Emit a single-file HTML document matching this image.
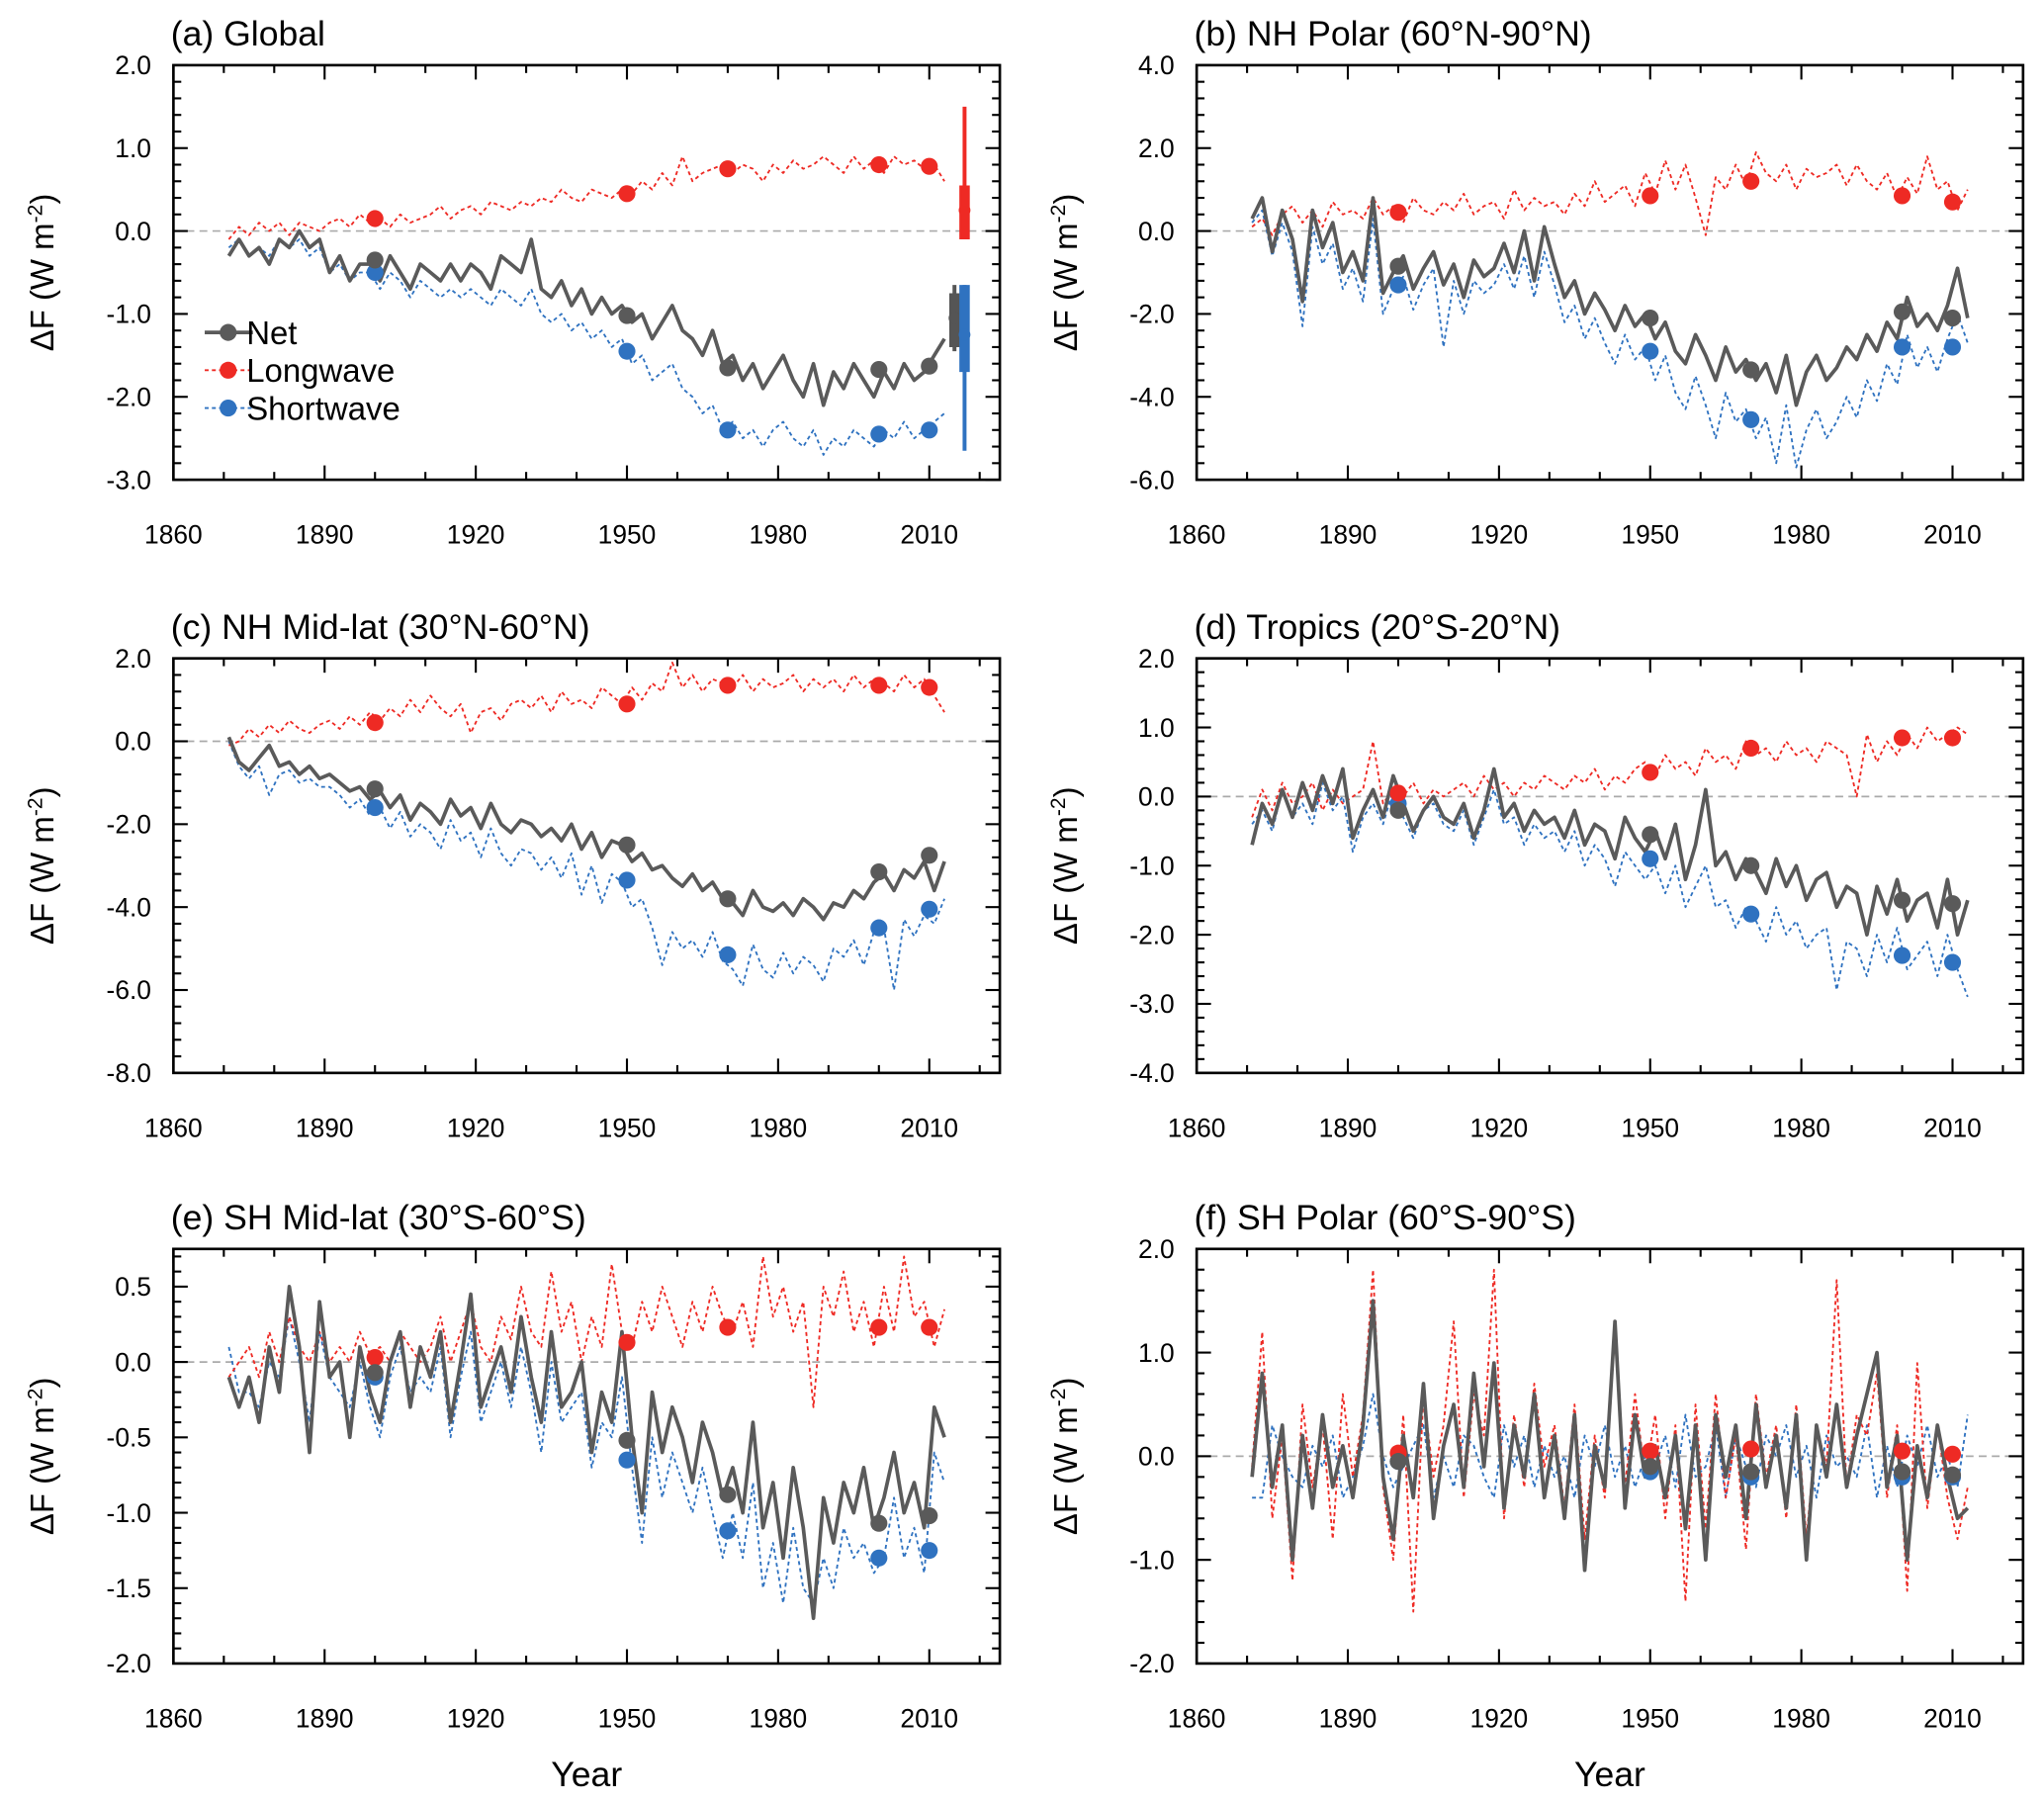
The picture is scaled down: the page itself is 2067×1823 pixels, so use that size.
<!DOCTYPE html>
<html><head><meta charset="utf-8">
<style>
html,body{margin:0;padding:0;background:#fff;}
svg{display:block;font-family:"Liberation Sans",Arial,sans-serif;}
</style></head>
<body>
<svg id="fig" width="2067" height="1823" viewBox="0 0 1568 1383" xmlns="http://www.w3.org/2000/svg"></svg>
<script>
// ---------- data (annual values every 2 years, 1871..2013) ----------
const years = Array.from({length:72},(_, i)=>1871+2*i);
const markerYears = [1900,1950,1970,2000,2010];

const aNet=[-0.3,-0.1,-0.3,-0.2,-0.4,-0.1,-0.2,0.0,-0.2,-0.1,-0.5,-0.3,-0.6,-0.4,-0.4,-0.6,-0.3,-0.5,-0.7,-0.4,-0.5,-0.6,-0.4,-0.6,-0.4,-0.5,-0.7,-0.3,-0.4,-0.5,-0.1,-0.7,-0.8,-0.6,-0.9,-0.7,-1.0,-0.8,-1.0,-0.9,-1.1,-1.0,-1.3,-1.1,-0.9,-1.2,-1.3,-1.5,-1.2,-1.6,-1.5,-1.8,-1.6,-1.9,-1.7,-1.5,-1.8,-2.0,-1.6,-2.1,-1.7,-1.9,-1.6,-1.8,-2.0,-1.7,-1.9,-1.6,-1.8,-1.7,-1.5,-1.3];
const aSW=[-0.2,-0.1,-0.3,-0.2,-0.3,-0.1,-0.2,-0.1,-0.3,-0.2,-0.5,-0.4,-0.6,-0.5,-0.5,-0.7,-0.5,-0.6,-0.8,-0.6,-0.7,-0.8,-0.7,-0.8,-0.7,-0.8,-0.9,-0.7,-0.8,-0.9,-0.7,-1.0,-1.1,-1.0,-1.2,-1.1,-1.3,-1.2,-1.4,-1.3,-1.6,-1.5,-1.8,-1.7,-1.6,-1.9,-2.0,-2.2,-2.1,-2.4,-2.3,-2.5,-2.4,-2.6,-2.4,-2.3,-2.5,-2.6,-2.4,-2.7,-2.5,-2.6,-2.4,-2.5,-2.6,-2.4,-2.5,-2.3,-2.5,-2.4,-2.3,-2.2];
const aLW=[-0.1,0.05,-0.05,0.1,0.0,0.1,-0.05,0.1,0.05,0.0,0.1,0.15,0.05,0.2,0.1,0.15,0.05,0.2,0.1,0.15,0.2,0.3,0.15,0.25,0.3,0.2,0.35,0.3,0.25,0.35,0.3,0.4,0.35,0.5,0.4,0.35,0.5,0.45,0.4,0.5,0.45,0.6,0.5,0.7,0.55,0.9,0.6,0.7,0.75,0.8,0.7,0.8,0.75,0.6,0.8,0.7,0.85,0.75,0.8,0.9,0.8,0.7,0.9,0.75,0.85,0.7,0.9,0.8,0.85,0.75,0.8,0.6];
const aMkNet=[-0.35,-1.02,-1.65,-1.67,-1.63], aMkLW=[0.15,0.45,0.75,0.8,0.78], aMkSW=[-0.5,-1.45,-2.4,-2.45,-2.4];

const bNet=[0.3,0.8,-0.5,0.5,-0.2,-1.7,0.5,-0.4,0.2,-1.0,-0.5,-1.2,0.8,-1.5,-1.0,-0.6,-1.4,-0.9,-0.5,-1.3,-0.8,-1.6,-0.7,-1.1,-0.9,-0.3,-1.0,0.0,-1.2,0.1,-0.8,-1.6,-1.2,-2.0,-1.5,-1.9,-2.4,-1.8,-2.3,-2.0,-2.6,-2.2,-2.9,-3.2,-2.5,-3.0,-3.6,-2.8,-3.4,-3.1,-3.6,-3.2,-3.9,-3.0,-4.2,-3.4,-3.0,-3.6,-3.3,-2.8,-3.1,-2.5,-2.9,-2.2,-2.6,-1.6,-2.3,-2.0,-2.4,-1.8,-0.9,-2.1];
const bSW=[0.2,0.5,-0.6,0.2,-0.5,-2.3,0.1,-0.8,-0.3,-1.4,-0.9,-1.7,0.3,-2.0,-1.4,-1.1,-1.9,-1.3,-0.9,-2.8,-1.2,-2.0,-1.2,-1.5,-1.3,-0.8,-1.4,-0.6,-1.6,-0.5,-1.3,-2.2,-1.8,-2.6,-2.1,-2.7,-3.2,-2.5,-3.1,-2.8,-3.6,-3.0,-3.9,-4.3,-3.5,-4.2,-5.0,-3.9,-4.6,-4.3,-5.0,-4.5,-5.6,-4.2,-5.7,-4.8,-4.3,-5.0,-4.6,-4.0,-4.5,-3.6,-4.1,-3.2,-3.7,-2.5,-3.3,-2.8,-3.4,-2.6,-2.0,-2.7];
const bLW=[0.1,0.3,-0.1,0.4,0.6,0.2,0.5,0.1,0.7,0.4,0.5,0.3,0.8,0.4,0.6,0.2,0.8,0.5,0.4,0.7,0.5,0.9,0.4,0.6,0.7,0.3,1.0,0.5,0.8,0.6,0.7,0.4,0.9,0.6,1.2,0.7,0.9,1.1,0.6,1.4,0.9,1.7,1.0,1.6,0.8,-0.1,1.3,1.0,1.6,1.1,1.9,1.4,1.2,1.6,1.0,1.5,1.3,1.4,1.6,1.1,1.6,1.2,1.0,1.4,0.8,1.3,0.9,1.8,1.0,1.2,0.5,1.0];
const bMkNet=[-0.85,-2.1,-3.35,-1.95,-2.1], bMkLW=[0.45,0.85,1.2,0.85,0.7], bMkSW=[-1.3,-2.9,-4.55,-2.8,-2.8];

const cNet=[0.1,-0.5,-0.7,-0.4,-0.1,-0.6,-0.5,-0.8,-0.6,-0.9,-0.8,-1.0,-1.2,-1.1,-1.4,-1.2,-1.6,-1.3,-1.9,-1.5,-1.7,-2.0,-1.4,-1.8,-1.6,-2.1,-1.5,-2.0,-2.2,-1.9,-2.0,-2.3,-2.1,-2.4,-2.0,-2.6,-2.2,-2.8,-2.4,-2.5,-2.9,-2.7,-3.1,-3.0,-3.3,-3.5,-3.2,-3.6,-3.4,-3.8,-3.9,-4.2,-3.6,-4.0,-4.1,-3.9,-4.2,-3.8,-4.0,-4.3,-3.9,-4.0,-3.6,-3.8,-3.4,-3.2,-3.6,-3.1,-3.3,-2.9,-3.6,-2.9];
const cSW=[0.0,-0.6,-0.9,-0.6,-1.3,-0.8,-0.7,-1.0,-0.9,-1.1,-1.1,-1.3,-1.6,-1.4,-1.8,-1.6,-2.1,-1.7,-2.3,-2.0,-2.2,-2.6,-1.9,-2.4,-2.2,-2.8,-2.1,-2.7,-3.0,-2.6,-2.7,-3.1,-2.8,-3.3,-2.7,-3.7,-3.0,-3.9,-3.2,-3.4,-4.0,-3.8,-4.5,-5.4,-4.6,-5.0,-4.8,-5.2,-4.6,-5.3,-5.5,-5.9,-4.9,-5.5,-5.7,-5.1,-5.6,-5.2,-5.4,-5.8,-5.0,-5.2,-4.8,-5.4,-4.6,-4.5,-6.0,-4.3,-4.7,-4.2,-4.4,-3.8];
const cLW=[-0.1,0.0,0.3,0.1,0.4,0.2,0.5,0.3,0.2,0.4,0.5,0.3,0.6,0.4,0.7,0.5,0.8,0.6,1.0,0.7,1.1,0.8,0.6,0.9,0.2,0.7,0.8,0.5,0.9,1.0,0.8,1.1,0.7,1.2,0.9,1.0,0.8,1.3,1.1,0.9,1.3,1.0,1.4,1.2,1.9,1.3,1.6,1.2,1.5,1.4,1.3,1.6,1.2,1.5,1.3,1.4,1.6,1.2,1.5,1.3,1.5,1.2,1.6,1.3,1.5,1.4,1.2,1.6,1.3,1.5,1.1,0.7];
const cMkNet=[-1.15,-2.5,-3.8,-3.15,-2.75], cMkLW=[0.45,0.9,1.35,1.35,1.3], cMkSW=[-1.6,-3.35,-5.15,-4.5,-4.05];

const dNet=[-0.7,-0.1,-0.4,0.1,-0.3,0.2,-0.2,0.3,-0.1,0.4,-0.6,-0.2,0.1,-0.3,0.3,-0.1,-0.5,-0.2,0.0,-0.3,-0.4,-0.1,-0.6,-0.2,0.4,-0.3,-0.1,-0.5,-0.2,-0.4,-0.3,-0.6,-0.2,-0.7,-0.4,-0.5,-0.9,-0.3,-0.6,-0.8,-0.5,-0.9,-0.4,-1.2,-0.7,0.1,-1.0,-0.8,-1.2,-0.9,-1.1,-1.4,-0.9,-1.3,-1.0,-1.5,-1.2,-1.1,-1.6,-1.3,-1.4,-2.0,-1.3,-1.7,-1.2,-1.8,-1.5,-1.4,-1.9,-1.2,-2.0,-1.5];
const dSW=[-0.4,-0.2,-0.5,0.1,-0.3,-0.1,-0.4,0.2,-0.2,0.0,-0.8,-0.3,-0.1,-0.4,0.1,-0.3,-0.6,-0.2,-0.1,-0.4,-0.5,-0.2,-0.7,-0.3,0.1,-0.4,-0.3,-0.7,-0.4,-0.6,-0.5,-0.8,-0.5,-1.0,-0.7,-0.9,-1.3,-0.8,-1.0,-1.2,-1.0,-1.4,-1.0,-1.6,-1.3,-1.0,-1.6,-1.5,-1.9,-1.6,-1.8,-2.1,-1.6,-2.0,-1.8,-2.2,-2.0,-1.9,-2.8,-2.1,-2.2,-2.6,-2.0,-2.4,-1.9,-2.5,-2.3,-2.1,-2.6,-2.0,-2.5,-2.9];
const dLW=[-0.3,0.1,-0.2,0.2,-0.1,0.0,0.2,-0.2,0.1,-0.1,0.0,0.1,0.8,-0.1,0.1,0.0,0.2,-0.1,0.1,0.0,0.1,0.2,0.0,0.3,0.1,0.2,0.0,0.2,0.1,0.3,0.2,0.1,0.3,0.2,0.4,0.1,0.3,0.2,0.4,0.5,0.3,0.6,0.4,0.5,0.3,0.7,0.5,0.6,0.4,0.8,0.6,0.7,0.5,0.8,0.6,0.7,0.5,0.8,0.7,0.6,0.0,0.9,0.5,0.8,0.6,0.9,0.7,1.0,0.8,0.9,1.0,0.9];
const dMkNet=[-0.2,-0.55,-1.0,-1.5,-1.55], dMkLW=[0.05,0.35,0.7,0.85,0.85], dMkSW=[-0.1,-0.9,-1.7,-2.3,-2.4];

const eNet=[-0.1,-0.3,-0.1,-0.4,0.1,-0.2,0.5,0.1,-0.6,0.4,-0.1,0.0,-0.5,0.1,-0.2,-0.4,0.0,0.2,-0.3,0.1,-0.1,0.2,-0.4,0.0,0.45,-0.3,-0.1,0.1,-0.2,0.3,-0.1,-0.4,0.2,-0.3,-0.2,0.0,-0.6,-0.2,-0.4,0.2,-0.5,-1.0,-0.2,-0.6,-0.3,-0.5,-0.8,-0.4,-0.6,-0.9,-0.7,-1.0,-0.4,-1.1,-0.8,-1.3,-0.7,-1.1,-1.7,-0.9,-1.2,-0.8,-1.0,-0.7,-1.1,-0.9,-0.6,-1.0,-0.8,-1.1,-0.3,-0.5];
const eSW=[0.1,-0.2,-0.2,-0.3,0.0,-0.1,0.3,0.0,-0.4,0.2,-0.1,-0.2,-0.3,0.0,-0.3,-0.5,-0.1,0.1,-0.2,-0.1,-0.2,0.1,-0.5,-0.1,0.2,-0.4,-0.2,0.0,-0.3,0.1,-0.2,-0.6,0.0,-0.4,-0.3,-0.2,-0.7,-0.4,-0.5,-0.1,-0.7,-1.2,-0.5,-0.9,-0.6,-0.8,-1.0,-0.7,-1.0,-1.3,-1.0,-1.3,-0.8,-1.5,-1.2,-1.6,-1.1,-1.5,-1.6,-1.3,-1.5,-1.1,-1.3,-1.2,-1.4,-1.3,-0.9,-1.3,-1.1,-1.4,-0.6,-0.8];
const eLW=[-0.1,0.0,0.1,-0.1,0.2,0.0,0.3,0.1,0.0,0.2,0.0,0.1,0.0,0.2,0.05,0.1,0.0,0.2,0.1,0.0,0.1,0.3,0.0,0.2,0.4,0.1,0.0,0.3,0.15,0.5,0.2,0.1,0.6,0.2,0.4,0.0,0.3,0.1,0.65,0.2,0.1,0.4,0.2,0.5,0.3,0.1,0.4,0.2,0.5,0.3,0.2,0.4,0.1,0.7,0.3,0.5,0.2,0.4,-0.3,0.5,0.3,0.6,0.2,0.4,0.1,0.5,0.2,0.7,0.3,0.4,0.1,0.35];
const eMkNet=[-0.07,-0.52,-0.88,-1.07,-1.02], eMkLW=[0.03,0.13,0.23,0.23,0.23], eMkSW=[-0.1,-0.65,-1.12,-1.3,-1.25];

const fNet=[-0.2,0.8,-0.3,0.3,-1.0,0.2,-0.5,0.4,-0.3,0.1,-0.4,0.3,1.5,-0.2,-0.8,0.2,-0.4,0.7,-0.6,0.1,0.5,-0.3,0.8,-0.1,0.9,-0.5,0.3,-0.2,0.6,-0.4,0.2,-0.6,0.4,-1.1,0.1,-0.3,1.3,-0.5,0.4,-0.2,0.1,-0.4,0.2,-0.7,0.3,-1.0,0.4,-0.2,0.3,-0.6,0.5,-0.3,0.2,-0.5,0.4,-1.0,0.3,-0.2,0.5,-0.3,0.2,0.6,1.0,-0.3,0.2,-1.0,0.1,-0.4,0.3,-0.2,-0.6,-0.5];
const fLW=[-0.1,1.2,-0.6,0.2,-1.2,0.5,-0.3,0.3,-0.8,0.6,-0.2,0.4,1.8,-0.3,-1.0,0.4,-1.5,0.6,-0.2,0.3,1.3,-0.4,0.6,0.2,1.8,-0.6,0.4,-0.3,0.7,-0.1,0.3,-0.5,0.5,-0.8,0.2,-0.4,1.2,-0.3,0.6,-0.2,0.4,-0.6,0.3,-1.4,0.5,-0.7,0.6,-0.4,0.2,-0.9,0.6,-0.2,0.3,-0.6,0.5,-0.8,0.3,-0.1,1.7,-0.3,0.4,0.2,0.8,-0.4,0.3,-1.3,0.9,-0.5,0.3,-0.4,-0.8,-0.3];
const fSW=[-0.4,-0.4,0.3,0.0,-0.2,-0.3,0.1,-0.1,0.2,-0.4,-0.2,0.1,0.6,0.0,-0.3,-0.1,0.1,0.3,-0.4,0.0,-0.3,0.2,0.1,-0.2,-0.4,0.3,-0.1,0.2,-0.3,0.1,-0.2,0.0,-0.4,0.2,-0.1,0.3,-0.2,0.1,-0.3,0.0,-0.1,0.2,-0.3,0.4,-0.2,-0.1,0.3,-0.4,0.2,-0.1,-0.3,0.2,0.0,0.3,-0.2,0.1,-0.4,0.2,-0.1,0.0,-0.2,0.3,-0.4,0.1,-0.3,0.2,-0.1,0.3,-0.2,0.0,-0.3,0.4];
const fMkNet=[-0.05,-0.1,-0.15,-0.15,-0.18], fMkLW=[0.03,0.05,0.07,0.05,0.02], fMkSW=[-0.05,-0.15,-0.2,-0.2,-0.2];

// uncertainty bars (global panel): [year, low, high, thickLow, thickHigh, centre]
const gErrNet=[2015,-1.45,-0.65,-1.4,-0.75,-1.05];
const gErrLW=[2017,-0.1,1.5,-0.1,0.55,0.25];
const gErrSW=[2017,-2.65,-0.65,-1.7,-0.65,-1.25];

const xTicks=[1860,1890,1920,1950,1980,2010];

// ---------- drawing ----------
const NS="http://www.w3.org/2000/svg";
const svg=document.getElementById('fig');
function mk(tag,attrs,parent){const e=document.createElementNS(NS,tag);for(const k in attrs)e.setAttribute(k,attrs[k]);(parent||svg).appendChild(e);return e;}
const C={net:'#5a5a5a',lw:'#ee2a24',sw:'#2f72c0'};

const panels=[
 {id:'a',title:'(a) Global',L:133,T:50,ymax:2,ymin:-3,step:1,net:aNet,lw:aLW,sw:aSW,mn:aMkNet,ml:aMkLW,ms:aMkSW,err:true,legend:true},
 {id:'b',title:'(b) NH Polar (60°N-90°N)',L:918,T:50,ymax:4,ymin:-6,step:2,net:bNet,lw:bLW,sw:bSW,mn:bMkNet,ml:bMkLW,ms:bMkSW},
 {id:'c',title:'(c) NH Mid-lat (30°N-60°N)',L:133,T:505,ymax:2,ymin:-8,step:2,net:cNet,lw:cLW,sw:cSW,mn:cMkNet,ml:cMkLW,ms:cMkSW},
 {id:'d',title:'(d) Tropics (20°S-20°N)',L:918,T:505,ymax:2,ymin:-4,step:1,net:dNet,lw:dLW,sw:dSW,mn:dMkNet,ml:dMkLW,ms:dMkSW},
 {id:'e',title:'(e) SH Mid-lat (30°S-60°S)',L:133,T:958,ymax:0.75,ymin:-2,step:0.5,ylo:-2,yhi:0.5,net:eNet,lw:eLW,sw:eSW,mn:eMkNet,ml:eMkLW,ms:eMkSW,xtitle:true},
 {id:'f',title:'(f) SH Polar (60°S-90°S)',L:918,T:958,ymax:2,ymin:-2,step:1,net:fNet,lw:fLW,sw:fSW,mn:fMkNet,ml:fMkLW,ms:fMkSW,xtitle:true},
];
const W=634,H=318,X0=1860,X1=2024;

panels.forEach(p=>{
  const g=mk('g',{});
  
  
  const xs=v=>p.L+(v-X0)/(X1-X0)*W;
  const ys=v=>p.T+(p.ymax-v)/(p.ymax-p.ymin)*H;
  const B=p.T+H,R=p.L+W;
  const z=mk('line',{x1:p.L,x2:R,y1:ys(0),y2:ys(0),stroke:'#aaa','stroke-width':1.3,'stroke-dasharray':'6,4'},g);
  
  const series=[['sw',p.sw,C.sw,1.4,'3,2.5'],['lw',p.lw,C.lw,1.4,'3,2.5'],['net',p.net,C.net,2.8,null]];
  series.forEach(([nm,arr,col,w,da])=>{
    const d=arr.map((v,i)=>(i?'L':'M')+xs(years[i]).toFixed(1)+','+ys(v).toFixed(1)).join('');
    const at={d:d,fill:'none',stroke:col,'stroke-width':w,'stroke-linejoin':'round'};
    if(da)at['stroke-dasharray']=da;
    const pl=mk('path',at,g);
    
    
  });
  [['sw',p.ms,C.sw],['lw',p.ml,C.lw],['net',p.mn,C.net]].forEach(([nm,arr,col])=>{
    arr.forEach((v,i)=>{
      const c=mk('circle',{cx:xs(markerYears[i]),cy:ys(v),r:6.5,fill:col},g);
      
      
    });
  });
  if(p.err){
    [['net',gErrNet,'#555'],['lw',gErrLW,C.lw],['sw',gErrSW,C.sw]].forEach(([nm,e,col])=>{
      const x=xs(e[0]);
      const t=mk('line',{x1:x,x2:x,y1:ys(e[1]),y2:ys(e[2]),stroke:col,'stroke-width':3},g);
      
      const k=mk('line',{x1:x,x2:x,y1:ys(e[3]),y2:ys(e[4]),stroke:col,'stroke-width':8},g);
      
      const m=mk('circle',{cx:x,cy:ys(e[5]),r:4.5,fill:col},g);
      
    });
  }
  const fr=mk('rect',{x:p.L,y:p.T,width:W,height:H,fill:'none',stroke:'#000','stroke-width':2},g);
  
  for(let yr=1860;yr<=2020;yr+=10){
    const x=xs(yr),maj=xTicks.includes(yr),len=maj?11:6;
    mk('line',{x1:x,x2:x,y1:B,y2:B-len,stroke:'#000','stroke-width':1.6},g);
    mk('line',{x1:x,x2:x,y1:p.T,y2:p.T+len,stroke:'#000','stroke-width':1.6},g);
  }
  xTicks.forEach(yr=>{
    const t=mk('text',{x:xs(yr),y:B+49,'font-size':20,'text-anchor':'middle'},g);
    t.textContent=yr;
    
  });
  const lo=p.ylo!==undefined?p.ylo:p.ymin,hi=p.yhi!==undefined?p.yhi:p.ymax;
  const minor=p.step/5;
  for(let v=p.ymin;v<=p.ymax+1e-9;v+=minor){
    const y=ys(v);const maj=Math.abs(v/p.step-Math.round(v/p.step))<1e-6;const len=maj?11:6;
    mk('line',{x1:p.L,x2:p.L+len,y1:y,y2:y,stroke:'#000','stroke-width':1.6},g);
    mk('line',{x1:R,x2:R-len,y1:y,y2:y,stroke:'#000','stroke-width':1.6},g);
  }
  for(let v=lo;v<=hi+1e-9;v+=p.step){
    const t=mk('text',{x:p.L-17,y:ys(v)+7,'font-size':20,'text-anchor':'end'},g);
    t.textContent=(Math.abs(v)<1e-9?0:v).toFixed(1);
    
  }
  const ti=mk('text',{x:p.L-2,y:p.T-15,'font-size':27},g);
  ti.textContent=p.title;
  
  const yt=mk('text',{x:0,y:0,'font-size':25,'text-anchor':'middle',transform:`translate(${p.L-92},${p.T+H/2}) rotate(-90)`},g);
  yt.innerHTML='ΔF (W m<tspan dy="-9" font-size="16">-2</tspan><tspan dy="9">)</tspan>';
  
  if(p.xtitle){
    const xt=mk('text',{x:p.L+W/2,y:1370,'font-size':27,'text-anchor':'middle'},g);
    xt.textContent='Year';
    
  }
  if(p.legend){
    const lg=mk('g',{},g);
    
    [['Net',C.net,null,2.8],['Longwave',C.lw,'3,2.5',1.4],['Shortwave',C.sw,'3,2.5',1.4]].forEach(([lab,col,da,w],i)=>{
      const y=255+i*29;
      const e=mk('g',{},lg);
      
      const at={x1:157,x2:194,y1:y,y2:y,stroke:col,'stroke-width':w};if(da)at['stroke-dasharray']=da;
      mk('line',at,e);
      mk('circle',{cx:175,cy:y,r:6.5,fill:col},e);
      const t=mk('text',{x:189,y:y+9,'font-size':25},e);t.textContent=lab;
    });
  }
});
</script>
</body></html>
